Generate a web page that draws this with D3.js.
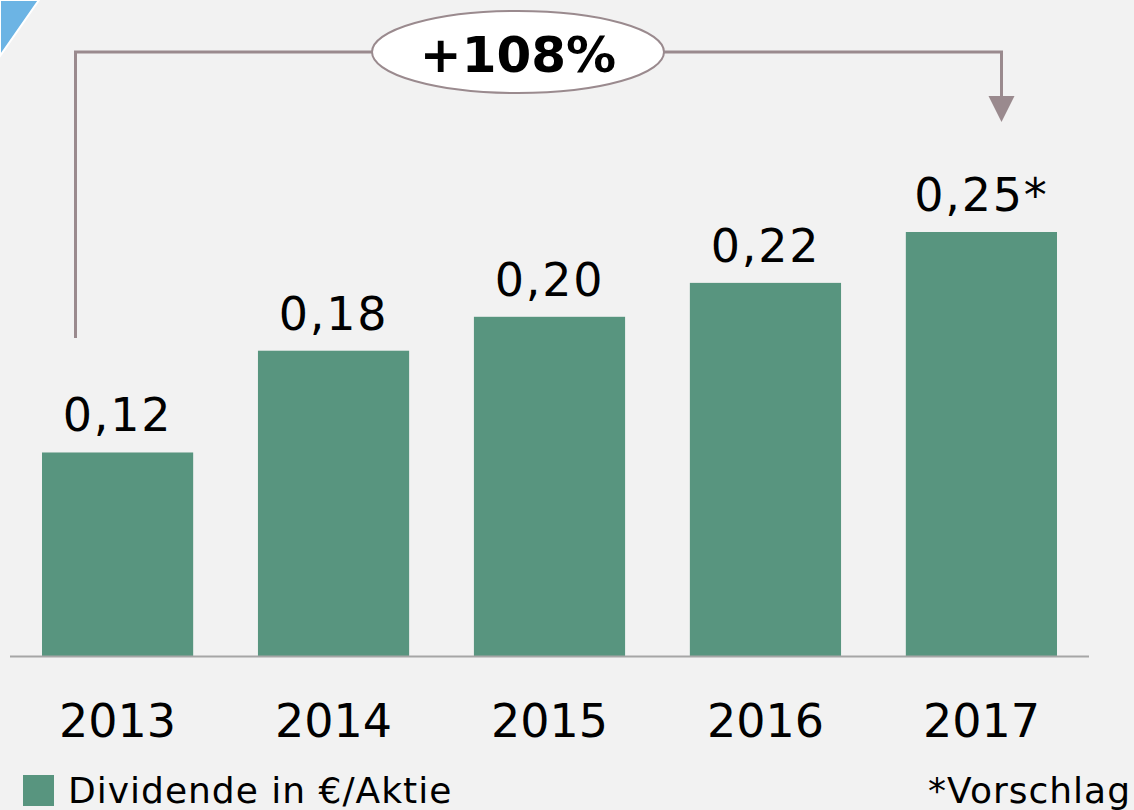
<!DOCTYPE html>
<html>
<head>
<meta charset="utf-8">
<script src="https://cdn.jsdelivr.net/npm/d3@7"></script>
<style>
  html, body { margin: 0; padding: 0; background: #f2f2f2; }
  svg { display: block; font-family: "DejaVu Sans", Verdana, sans-serif; }
</style>
</head>
<body>
<div id="chart"></div>
<script>
// Dividende je Aktie
const years = ["2013", "2014", "2015", "2016", "2017"];
const dividends = [0.12, 0.18, 0.20, 0.22, 0.25];
const valueLabels = ["0,12", "0,18", "0,20", "0,22", "0,25*"];
const growthLabel = "+108%";
const legendLabel = "Dividende in €/Aktie";
const noteLabel = "*Vorschlag";

const width = 1134, height = 810;
const barColor = "#58957f";
const lineColor = "#9a8a8e";

const svg = d3.select("#chart").append("svg")
    .attr("width", width)
    .attr("height", height);

svg.append("rect")
    .attr("width", width)
    .attr("height", height)
    .attr("fill", "#f2f2f2");

// blue corner
svg.append("polygon")
    .attr("points", "0,0 39,0 0,56")
    .attr("fill", "#6cb4e4")
    .attr("stroke", "#ffffff")
    .attr("stroke-width", 2);

const x = d3.scaleBand()
    .domain(years)
    .range([42, 1057])
    .paddingInner(0.3)
    .paddingOuter(0);

const y = d3.scaleLinear()
    .domain([0, 0.25])
    .range([656, 232]);

const data = years.map((yr, i) => ({year: yr, value: dividends[i], label: valueLabels[i]}));

svg.selectAll(".bar")
    .data(data)
    .join("rect")
    .attr("class", "bar")
    .attr("x", d => x(d.year))
    .attr("y", d => y(d.value))
    .attr("width", x.bandwidth())
    .attr("height", d => y(0) - y(d.value))
    .attr("fill", barColor);

// baseline
svg.append("line")
    .attr("x1", 10).attr("x2", 1089)
    .attr("y1", y(0) + 0.5).attr("y2", y(0) + 0.5)
    .attr("stroke", "#a6a6a6")
    .attr("stroke-width", 2);

// value labels
svg.selectAll(".val")
    .data(data)
    .join("text")
    .attr("class", "val")
    .attr("x", d => x(d.year) + x.bandwidth() / 2)
    .attr("y", d => y(d.value) - 21)
    .attr("text-anchor", "middle")
    .attr("font-size", 46)
    .attr("letter-spacing", 1.8)
    .attr("fill", "#000")
    .text(d => d.label);

// year axis
const xAxis = svg.append("g")
    .attr("transform", `translate(0,${y(0)})`)
    .call(d3.axisBottom(x).tickSize(0).tickPadding(0));
xAxis.select(".domain").remove();
xAxis.selectAll("text")
    .attr("dy", null)
    .attr("y", 81)
    .attr("font-size", 46)
    .attr("font-family", "DejaVu Sans, Verdana, sans-serif")
    .attr("fill", "#000");

// growth bracket
const bx1 = 75.5, bx2 = 1001.5, bTop = 52, bLeftBottom = 338, bArrowTop = 96;
svg.append("path")
    .attr("d", `M${bx1},${bLeftBottom} V${bTop} H${bx2} V${bArrowTop + 2}`)
    .attr("fill", "none")
    .attr("stroke", lineColor)
    .attr("stroke-width", 3);
svg.append("polygon")
    .attr("points", `${bx2 - 13},${bArrowTop} ${bx2 + 13},${bArrowTop} ${bx2},${bArrowTop + 26}`)
    .attr("fill", lineColor);

svg.append("ellipse")
    .attr("cx", 518).attr("cy", 52)
    .attr("rx", 146).attr("ry", 41)
    .attr("fill", "#ffffff")
    .attr("stroke", lineColor)
    .attr("stroke-width", 2);
svg.append("text")
    .attr("x", 518).attr("y", 72)
    .attr("text-anchor", "middle")
    .attr("font-size", 50)
    .attr("font-weight", "bold")
    .attr("fill", "#000")
    .text(growthLabel);

// legend
svg.append("rect")
    .attr("x", 23).attr("y", 775)
    .attr("width", 31).attr("height", 31)
    .attr("fill", barColor);
svg.append("text")
    .attr("x", 68).attr("y", 803)
    .attr("font-size", 36)
    .attr("letter-spacing", 1)
    .attr("fill", "#000")
    .text(legendLabel);
svg.append("text")
    .attr("x", 1131).attr("y", 803)
    .attr("text-anchor", "end")
    .attr("font-size", 36)
    .attr("letter-spacing", 1)
    .attr("fill", "#000")
    .text(noteLabel);
</script>
</body>
</html>
